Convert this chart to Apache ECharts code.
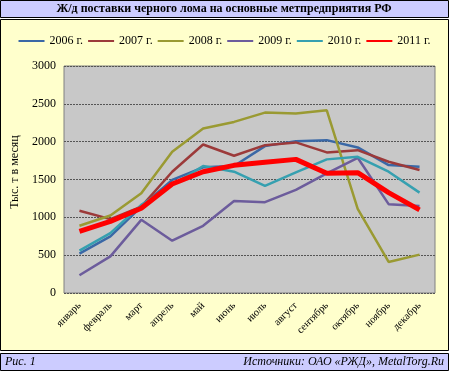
<!DOCTYPE html>
<html><head><meta charset="utf-8">
<script src="https://cdn.jsdelivr.net/npm/echarts@6/dist/echarts.min.js"></script>
<style>html,body{margin:0;padding:0;background:#fff}#c{width:449px;height:371px}</style>
</head><body><div id="c"></div>
<script>
var months = ['январь','февраль','март','апрель','май','июнь','июль','август','сентябрь','октябрь','ноябрь','декабрь'];
var yTicks = [0,500,1000,1500,2000,2500,3000];
var y2006 = [520,748,1142,1494,1661,1678,1941,2007,2020,1924,1691,1669];
var y2007 = [1086,976,1142,1603,1963,1814,1954,1990,1858,1888,1735,1625];
var y2008 = [888,1024,1318,1866,2174,2261,2384,2371,2415,1112,410,507];
var y2009 = [234,484,967,691,888,1217,1200,1362,1582,1787,1174,1151];
var y2010 = [559,792,1165,1428,1678,1603,1415,1595,1766,1800,1603,1327];
var y2011 = [813,945,1121,1441,1603,1687,1727,1766,1582,1590,1327,1099];
var names = ['2006 г.','2007 г.','2008 г.','2009 г.','2010 г.','2011 г.'];
var colors = ['#3a68a6','#9c3a3a','#9a9a32','#6c5c9c','#36a0b0','#ff0000'];
var data = [y2006,y2007,y2008,y2009,y2010,y2011];
var font = 'Liberation Serif';
var chart = echarts.init(document.getElementById('c'));
var series = data.map(function(d,i){
  return {name:names[i], type:'line', data:d, symbol:'none', smooth:false,
    lineStyle:{color:colors[i], width: i===5?5:2.5}, itemStyle:{color:colors[i]}, z: i===5?10:2};
});
chart.setOption({
  animation:false,
  textStyle:{fontFamily:font},
  graphic:[
    {type:'rect', shape:{x:0.5,y:0.5,width:448,height:17}, style:{fill:'#ccccff',stroke:'#000',lineWidth:1}, z:-10},
    {type:'text', x:224, y:9, style:{text:'Ж/д поставки черного лома на основные метпредприятия РФ', font:'bold 12px "Liberation Serif"', fill:'#000', align:'center', verticalAlign:'middle'}},
    {type:'rect', shape:{x:0.5,y:19.5,width:448,height:331}, style:{fill:'#ffffcc',stroke:'#000',lineWidth:1}, z:-10},
    {type:'rect', shape:{x:0.5,y:353.5,width:448,height:17}, style:{fill:'#ccccff',stroke:'#000',lineWidth:1}, z:-10},
    {type:'text', x:5, y:362, style:{text:'Рис. 1', font:'italic 12px "Liberation Serif"', fill:'#000', align:'left', verticalAlign:'middle'}},
    {type:'text', x:444, y:362, style:{text:'Источники: ОАО «РЖД», MetalTorg.Ru', font:'italic 12px "Liberation Serif"', fill:'#000', align:'right', verticalAlign:'middle'}},
    {type:'text', x:15, y:172, rotation:Math.PI/2, style:{text:'Тыс. т в месяц', font:'12px "Liberation Serif"', fill:'#000', align:'center', verticalAlign:'middle'}}
  ],
  legend:{top:35, left:'center', itemWidth:26, itemHeight:2, itemGap:5, icon:'rect', padding:0,
    data:names, textStyle:{fontFamily:font, fontSize:12, color:'#000'}},
  grid:{left:64, right:14, top:66, bottom:78, show:true, backgroundColor:'#c8c8c8', borderColor:'#808080', borderWidth:1},
  xAxis:{type:'category', data:months, boundaryGap:true,
    axisLine:{show:false}, axisTick:{show:false},
    axisLabel:{rotate:45, fontFamily:font, fontSize:10.5, color:'#000', margin:11, interval:0}},
  yAxis:{type:'value', min:0, max:3000, interval:500,
    axisLine:{show:false}, axisTick:{show:false},
    axisLabel:{fontFamily:font, fontSize:12, color:'#000', margin:8, formatter:function(v){return yTicks.indexOf(v)>=0?String(v):'';}},
    splitLine:{lineStyle:{color:'#555', type:[2,1], width:1}}},
  series:series
});
</script></body></html>
